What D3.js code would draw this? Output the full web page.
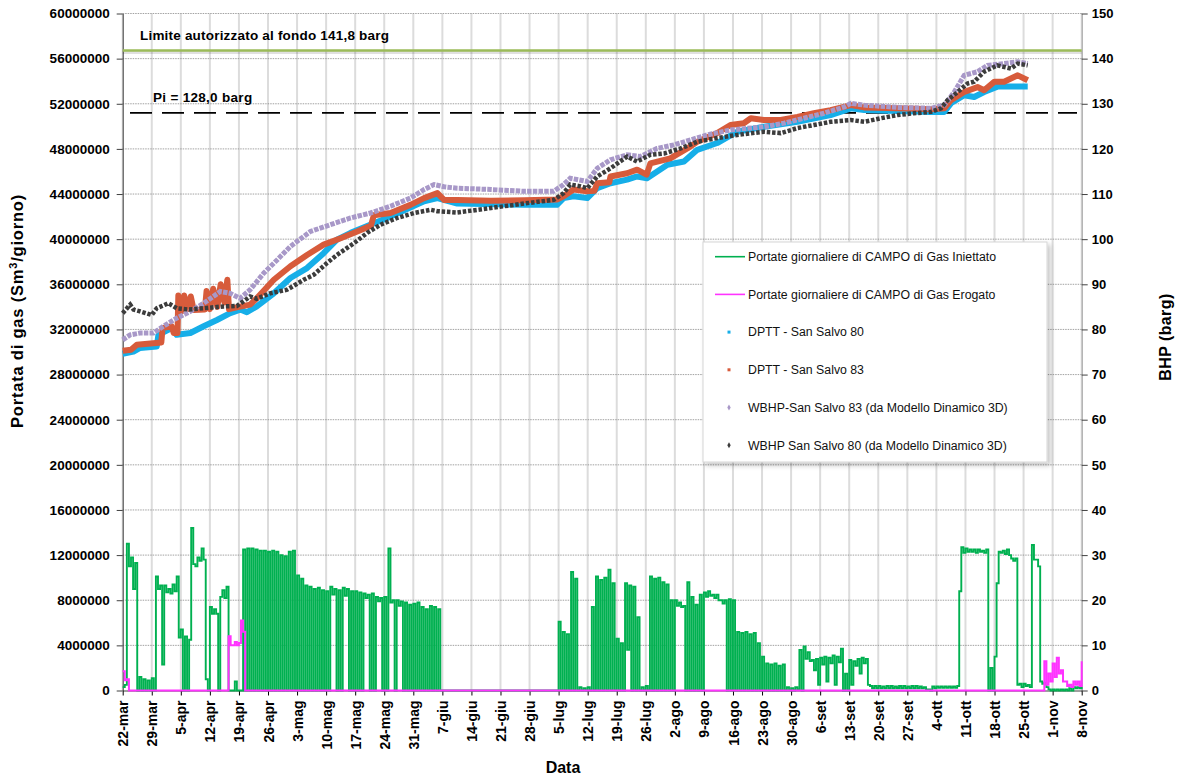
<!DOCTYPE html>
<html><head><meta charset="utf-8">
<script src="https://cdn.jsdelivr.net/npm/d3@7"></script>
<style>
body{margin:0;background:#fff;}
svg{font-family:"Liberation Sans",Arial,sans-serif;}
</style></head><body>
<svg id="c" width="1192" height="778"></svg>
<script>
// ---------- DATA ----------
const xTickLabels = ["22-mar","29-mar","5-apr","12-apr","19-apr","26-apr","3-mag","10-mag","17-mag","24-mag","31-mag","7-giu","14-giu","21-giu","28-giu","5-lug","12-lug","19-lug","26-lug","2-ago","9-ago","16-ago","23-ago","30-ago","6-set","13-set","20-set","27-set","4-ott","11-ott","18-ott","25-ott","1-nov","8-nov"];
const leftTicks = [0,4000000,8000000,12000000,16000000,20000000,24000000,28000000,32000000,36000000,40000000,44000000,48000000,52000000,56000000,60000000];
const rightTicks = [0,10,20,30,40,50,60,70,80,90,100,110,120,130,140,150];

// Gas injected (million Sm3/day), first half / second half of each day, day 0 = 22-mar
const gasInjA = [
0.3,13.0,11.8,11.3,1.2,1.0,0.9,
1.1,10.1,9.3,9.3,9.0,9.4,10.1,
5.4,4.8,4.5,11.2,11.8,12.6,1.0,
7.4,7.2,0.0,8.9,9.2,0.0,0.8,
0.0,12.5,12.6,12.6,12.5,12.4,12.4,
12.3,12.4,12.3,12.0,11.9,12.3,12.4,
10.2,9.9,9.3,9.2,9.0,9.1,8.9,
8.8,9.2,9.0,8.9,9.1,9.0,8.8,
8.8,8.7,8.6,8.5,8.6,8.3,8.2,
8.3,12.6,8.0,8.0,7.9,7.8,7.6,
7.7,7.8,7.4,7.2,7.5,7.4,7.2,
0,0,0,0,0,0,0,
0,0,0,0,0,0,0,
0,0,0,0,0,0,0,
0,0,0,0,0,0,0,
6.1,5.2,5.0,10.5,9.9,0.3,0.2,
0.3,7.4,10.1,9.8,10.0,10.7,9.5,
4.6,4.2,9.5,9.3,9.2,6.5,0.3,
0.4,10.1,9.9,10.0,9.6,9.4,8.0,
8.0,7.8,7.5,9.6,8.3,7.6,8.5,
8.7,8.8,8.5,8.5,8.0,8.0,8.1,
8.0,5.2,5.1,5.2,5.0,5.1,4.2,
3.0,2.4,2.3,2.4,2.2,2.3,0.3,
0.2,0.3,3.6,3.9,3.4,2.7,2.8,
2.9,3.0,2.9,3.1,3.0,3.7,1.5,
2.7,2.6,2.8,2.9,2.8,0.4,0.4,
0.4,0.35,0.4,0.4,0.35,0.4,0.4,
0.35,0.4,0.4,0.35,0.3,0.1,0.35,
0.35,0.35,0.35,0.35,0.35,0.4,12.7,
12.6,12.5,12.5,12.5,12.4,12.5,2.0,
3.0,12.3,12.4,12.5,11.7,11.7,0.6,
0.6,0.5,12.9,11.6,0.8,0.7,0.1,
0.1,0.1,0.1,0.1,0.2,0.3,0.3,
0.3];
const gasInjB = [
0.5,11.0,9.0,0,0,0,0,
0,9.0,2.3,8.7,8.6,8.8,4.7,
0,0,14.4,11.0,11.5,11.6,0,
6.8,6.8,8.3,8.2,0,0,0,
0,0,0,0,0,0,0,
0,0,0,0,0,0,0,
0,0,0,0,0,0,0,
0,8.5,0,0,8.4,0,0,
0,0,8.2,0,0,7.9,0,
0,7.8,0,7.5,0,0,0,
0,0,0,0,0,0,0,
0,0,0,0,0,0,0,
0,0,0,0,0,0,0,
0,0,0,0,0,0,0,
0,0,0,0,0,0,0,
0,0,0,0,0,0,0,
0,0,0,0,0,0,0,
0,0,3.6,0,0,0,0,
0,0,0,0,0,0,0,
7.5,7.4,0,0,0,0,0,
8.3,8.4,8.2,8.0,7.7,0,0,
0,0,0,0,0,0,0,
0,0,0,0,0,0,0,
0,0.1,0,2.8,2.6,1.8,0.5,
2.3,0.8,2.4,0.5,2.5,0,0,
0.5,2.2,1.5,2.4,0.5,0.2,0.2,
0.2,0.2,0.2,0.2,0.2,0.2,0.2,
0.2,0.2,0.2,0.2,0.1,0,0.2,
0.25,0.25,0.25,0.25,0.25,8.8,12.2,
12.3,12.3,12.2,12.3,12.2,0,0,
9.5,12.2,12.1,12.0,11.5,0.5,0.3,
0.4,0.3,11.6,11.0,0.6,0.3,0,
0,0,0,0,0,0.2,0.2,
0.3];
// Gas delivered (million Sm3/day), first half / second half
const gasEroA = [
1.7,1.0,0,0,0,0,0,
0,0,0,0,0,0,0,
0,0,0,0,0,0,0,
0,0,0,0,0,4.0,4.3,
4.2,5.2,0,0,0,0,0,
0,0,0,0,0,0,0,
0,0,0,0,0,0,0,
0,0,0,0,0,0,0,
0,0,0,0,0,0,0,
0,0,0,0,0,0,0,
0,0,0,0,0,0,0,
0,0,0,0,0,0,0,
0,0,0,0,0,0,0,
0,0,0,0,0,0,0,
0,0,0,0,0,0,0,
0,0,0,0,0,0,0,
0,0,0,0,0,0,0,
0,0,0,0,0,0,0,
0,0,0,0,0,0,0,
0,0,0,0,0,0,0,
0,0,0,0,0,0,0,
0,0,0,0,0,0,0,
0,0,0,0,0,0,0,
0,0,0,0,0,0,0,
0,0,0,0,0,0,0,
0,0,0,0,0,0,0,
0,0,0,0,0,0,0,
0,0,0,0,0,0,0,
0,0,0,0,0,0,0,
0,0,0,0,0,0,0,
0,0,0,0,0,0,0,
0,0,0,0,0,2.6,1.5,
2.4,2.9,1.8,0.8,0.5,0.8,0.8,
2.6];
const gasEroB = [
0.9,0,0,0,0,0,0,
0,0,0,0,0,0,0,
0,0,0,0,0,0,0,
0,0,0,0,4.8,4.0,4.0,
6.2,0,0,0,0,0,0,
0,0,0,0,0,0,0,
0,0,0,0,0,0,0,
0,0,0,0,0,0,0,
0,0,0,0,0,0,0,
0,0,0,0,0,0,0,
0,0,0,0,0,0,0,
0,0,0,0,0,0,0,
0,0,0,0,0,0,0,
0,0,0,0,0,0,0,
0,0,0,0,0,0,0,
0,0,0,0,0,0,0,
0,0,0,0,0,0,0,
0,0,0,0,0,0,0,
0,0,0,0,0,0,0,
0,0,0,0,0,0,0,
0,0,0,0,0,0,0,
0,0,0,0,0,0,0,
0,0,0,0,0,0,0,
0,0,0,0,0,0,0,
0,0,0,0,0,0,0,
0,0,0,0,0,0,0,
0,0,0,0,0,0,0,
0,0,0,0,0,0,0,
0,0,0,0,0,0,0,
0,0,0,0,0,0,0,
0,0,0,0,0,0,0,
0,0,0,0,0,0.5,0.8,
1.2,1.5,0.8,0.4,0.3,0.5,0.4,
0.5];

// Pressures (barg): [day since 22-mar, value]
const dpttSS80 = [[0,74.6],[2.6,75.1],[4.2,75.9],[8.2,76.2],[8.6,78.8],[11.8,80.3],[13,78.8],[16.3,79.2],[19.5,80.7],[22.7,82.1],[25.9,83.6],[28.3,84.4],[29.9,83.8],[32.3,85.1],[36.4,88.0],[40.4,91.4],[44.4,93.6],[48.4,96.9],[51.6,99.9],[54.9,101.4],[58,102.6],[64.5,105.0],[72.6,108.4],[75.8,109.1],[80.6,107.9],[96.7,107.6],[104.6,107.6],[106.2,109.1],[108.6,109.5],[111.9,109.1],[114.3,111.3],[117.5,112.4],[121.5,113.2],[123.9,113.9],[126.3,113.5],[131.2,116.5],[135.2,117.2],[138.4,119.8],[143.2,121.3],[148,123.8],[154.5,124.9],[162.5,126.0],[170.5,127.5],[175.4,129.0],[178.6,128.6],[186.6,128.4],[194.7,128.2],[197.9,128.2],[199.5,130.1],[202.7,131.9],[205.1,131.5],[207.5,132.6],[210.7,133.8],[215.6,133.8],[218,133.8]];
const dpttSS83 = [[0,75.3],[2,75.5],[3.4,76.6],[9.3,77.1],[9.6,80.3],[11.8,80.7],[12.3,79.2],[13.2,79.2],[13.4,87.5],[14.2,84.0],[14.8,87.5],[15.6,84.5],[16.4,87.3],[17.1,84.3],[19.8,84.4],[20.2,88.5],[21,84.5],[21.8,89.0],[22.8,85.0],[23.6,90.0],[24.5,86.0],[25.2,91.0],[25.6,84.5],[28,85.0],[30.7,85.5],[32.3,86.9],[36.4,91.0],[40.4,94.0],[44.4,96.5],[48.4,98.8],[52.5,100.2],[56.5,101.7],[59.8,103.0],[60.5,105.3],[64.5,105.8],[69.3,107.6],[72.6,109.1],[75.8,110.2],[77.4,108.7],[80.6,108.7],[88.7,108.5],[96.7,108.6],[104.6,108.8],[106.2,109.5],[108.6,111.0],[111.9,110.6],[113.6,110.7],[114.3,112.4],[117.2,112.6],[117.5,113.9],[121.5,114.6],[123.9,115.4],[126.2,114.3],[127.1,116.8],[131.9,117.9],[136,120.1],[138.4,121.6],[143.2,123.5],[146.4,125.3],[149.6,125.7],[151.3,126.8],[154.5,126.4],[158.5,126.4],[162.5,127.1],[166.5,127.9],[170.5,128.6],[175.4,129.7],[178.6,129.2],[186.6,129.0],[194.7,128.8],[197.9,129.0],[199.5,130.8],[202.7,132.6],[205.9,133.7],[207.5,133.0],[210,134.9],[212.3,134.9],[215.6,136.3],[218,135.2]];
const wbhpSS83 = [[0,77.7],[1.8,78.8],[4.2,79.2],[7.4,79.2],[9.8,80.7],[13,82.5],[16.3,84.0],[19.5,85.8],[23.5,88.4],[25.9,88.0],[28.3,86.9],[30.7,88.8],[34,92.5],[37.2,95.4],[40.4,98.4],[45.2,101.7],[50,103.2],[54.9,104.7],[59.7,105.8],[64.5,107.3],[69.3,109.1],[72.6,111.0],[75,112.1],[77.4,111.6],[80.6,111.3],[88.7,111.0],[96.7,110.6],[103.8,110.6],[106.2,112.1],[107.8,113.5],[111.9,112.8],[114.3,115.7],[117.5,117.6],[121.5,118.7],[124.7,118.3],[128.7,120.1],[132.8,120.9],[136.8,122.0],[140.8,123.1],[146.4,124.2],[154.5,124.9],[159.3,125.7],[164.1,126.8],[168.9,127.9],[173.8,129.3],[175.4,130.1],[178.6,129.7],[186.6,129.2],[194.7,129.0],[197.9,129.7],[200.3,132.6],[202.7,136.3],[205.9,137.1],[208.3,138.5],[212.3,138.9],[215.6,139.3],[218,138.9]];
const wbhpSS80 = [[0,83.6],[1.8,85.5],[2.6,84.4],[4.2,84.0],[7,83.2],[8.2,84.7],[11,85.8],[13,84.7],[16,84.4],[19.5,84.7],[24.3,85.1],[27.5,85.2],[29.5,86.5],[30.7,87.3],[32.3,86.8],[35.5,88.0],[39.6,88.8],[43.6,91.0],[46,92.1],[49.2,94.7],[51.6,96.5],[55.7,99.1],[58.9,101.4],[62.1,103.2],[66.1,104.7],[70.2,105.8],[74.2,106.5],[75.8,106.2],[80.6,105.9],[88.7,106.9],[96.7,107.9],[103.8,108.7],[106.2,110.2],[107.8,112.1],[110.3,111.7],[111.9,111.3],[114.3,113.9],[117.5,115.7],[121.5,118.3],[123.9,117.2],[127.1,118.7],[130.4,119.0],[134.4,120.1],[138.4,121.6],[143.2,122.4],[148,123.1],[154.5,123.8],[158.5,123.5],[162.5,124.6],[166.5,125.3],[170.5,126.0],[175.4,126.4],[178.6,126.0],[182.6,126.8],[186.6,127.5],[190.6,127.9],[194.7,128.2],[197.1,129.0],[198.7,130.8],[201.1,132.6],[203.5,134.5],[205.1,134.9],[207.5,137.1],[210.7,138.5],[214,137.8],[215.6,138.9],[218,138.5]];

const limitBarg = 141.8;
const piBarg = 128.0;
const legendItems = [
  {label:"Portate giornaliere di CAMPO di Gas Iniettato", type:"line", color:"#00B050"},
  {label:"Portate giornaliere di CAMPO di Gas Erogato", type:"line", color:"#FF33FF"},
  {label:"DPTT - San Salvo 80", type:"square", color:"#16AEE8"},
  {label:"DPTT - San Salvo 83", type:"square", color:"#D75B3B"},
  {label:"WBHP-San Salvo 83 (da Modello Dinamico 3D)", type:"diamond", color:"#A898C8"},
  {label:"WBHP San Salvo 80 (da Modello Dinamico 3D)", type:"diamond", color:"#3C3C3C"}
];

// ---------- CHART ----------
const svg = d3.select("#c");
const L = 122.7, R = 1081.7, T = 13.5, B = 690.5;
const start = Date.UTC(2010,2,22), dayMs = 864e5;
const toDate = d => new Date(start + d*dayMs);
const x = d3.scaleUtc().domain([toDate(0), toDate(231)]).range([L, R]);
const yL = d3.scaleLinear().domain([0,60000000]).range([B, T]);
const yR = d3.scaleLinear().domain([0,150]).range([B, T]);
const tickDates = xTickLabels.map((_,i)=>toDate(i*7));

const defs = svg.append("defs");
const f = defs.append("filter").attr("id","sh").attr("x","-5%").attr("y","-5%").attr("width","115%").attr("height","115%");
f.append("feDropShadow").attr("dx",3).attr("dy",3).attr("stdDeviation",2.5).attr("flood-color","#000").attr("flood-opacity",0.22);

// gridlines
svg.append("g").selectAll("line").data(tickDates).join("line")
  .attr("x1",d=>x(d)).attr("x2",d=>x(d)).attr("y1",T).attr("y2",B)
  .attr("stroke","#dcdcdc").attr("stroke-width",2);
svg.append("g").selectAll("line").data(leftTicks.slice(1)).join("line")
  .attr("x1",L).attr("x2",R).attr("y1",d=>yL(d)).attr("y2",d=>yL(d))
  .attr("stroke","#8a8a8a").attr("stroke-width",0.8).attr("stroke-dasharray","1.5,1");

// axes
const fontAxis = (g,fs) => g.selectAll("text").attr("font-size",fs).attr("font-weight","bold").attr("fill","#000").attr("font-family","'Liberation Sans',Arial,sans-serif");
const ax = svg.append("g").attr("transform",`translate(0,${B})`)
  .call(d3.axisBottom(x).tickValues(tickDates).tickFormat((d,i)=>xTickLabels[i]).tickSize(5).tickSizeOuter(0));
ax.select(".domain").attr("stroke","#404040");
ax.selectAll(".tick line").attr("stroke","#000");
fontAxis(ax,14);
ax.selectAll("text").attr("transform","rotate(-90)").attr("text-anchor","end").attr("x",-10).attr("y",0).attr("dy","0.36em");

const al = svg.append("g").attr("transform",`translate(${L},0)`)
  .call(d3.axisLeft(yL).tickValues(leftTicks).tickFormat(d3.format("d")).tickSize(6).tickPadding(7).tickSizeOuter(0));
al.select(".domain").attr("stroke","#404040");
al.selectAll(".tick line").attr("stroke","#404040");
fontAxis(al,13.5);

const ar = svg.append("g").attr("transform",`translate(${R},0)`)
  .call(d3.axisRight(yR).tickValues(rightTicks).tickSize(6).tickPadding(4).tickSizeOuter(0));
ar.select(".domain").attr("stroke","#a0a0a0");
ar.selectAll(".tick line").attr("stroke","#404040");
fontAxis(ar,13);

// limit line
svg.append("line").attr("x1",L).attr("x2",R).attr("y1",yR(limitBarg)+2).attr("y2",yR(limitBarg)+2)
  .attr("stroke","#000").attr("stroke-opacity",0.12).attr("stroke-width",3);
svg.append("line").attr("x1",L).attr("x2",R).attr("y1",yR(limitBarg)).attr("y2",yR(limitBarg))
  .attr("stroke","#9BBB59").attr("stroke-width",2.5);
svg.append("text").attr("x",140).attr("y",40).attr("font-size",13.5).attr("letter-spacing",0.2).attr("font-weight","bold")
  .text("Limite autorizzato al fondo 141,8 barg");

// Pi line
svg.append("line").attr("x1",130).attr("x2",1077).attr("y1",yR(piBarg)).attr("y2",yR(piBarg))
  .attr("stroke","#000").attr("stroke-width",1.8).attr("stroke-dasharray","22,10");
svg.append("text").attr("x",153).attr("y",102).attr("font-size",13.5).attr("letter-spacing",0.3).attr("font-weight","bold")
  .text("Pi = 128,0 barg");

// gas flows (half-day step lines)
function halfDay(A,Bv){
  const pts=[];
  A.forEach((v,i)=>{ pts.push([toDate(i),v*1e6]); if(i<A.length-1) pts.push([toDate(i+0.5),Bv[i]*1e6]); });
  return pts;
}
const stepLine = d3.line().x(d=>x(d[0])).y(d=>yL(d[1])).curve(d3.curveStepAfter);
svg.append("path").attr("d",stepLine(halfDay(gasInjA,gasInjB)))
  .attr("fill","none").attr("stroke","#00B050").attr("stroke-width",1.9);
svg.append("path").attr("d",stepLine(halfDay(gasEroA,gasEroB)))
  .attr("fill","none").attr("stroke","#FF33FF").attr("stroke-width",2);

// pressures
const pLine = d3.line().x(d=>x(toDate(d[0]))).y(d=>yR(d[1]));
svg.append("path").attr("d",pLine(dpttSS80)).attr("fill","none").attr("stroke","#16AEE8").attr("stroke-width",6).attr("stroke-linejoin","round");
svg.append("path").attr("d",pLine(dpttSS83)).attr("fill","none").attr("stroke","#D75B3B").attr("stroke-width",6).attr("stroke-linejoin","round");
svg.append("path").attr("d",pLine(wbhpSS83)).attr("fill","none").attr("stroke","#A898C8").attr("stroke-width",5).attr("stroke-dasharray","4.5,1.2");
svg.append("path").attr("d",pLine(wbhpSS80)).attr("fill","none").attr("stroke","#3C3C3C").attr("stroke-width",4.5).attr("stroke-dasharray","3.5,1.8");

// titles
const tl = svg.append("text").attr("transform","translate(23,311) rotate(-90)").attr("text-anchor","middle")
  .attr("font-size",16.5).attr("letter-spacing",0.8).attr("font-weight","bold");
tl.append("tspan").text("Portata di gas (Sm");
tl.append("tspan").attr("dy",-6).attr("font-size",11).text("3");
tl.append("tspan").attr("dy",6).text("/giorno)");
svg.append("text").attr("transform","translate(1171,337) rotate(-90)").attr("text-anchor","middle")
  .attr("font-size",16).attr("letter-spacing",0.4).attr("font-weight","bold").text("BHP (barg)");
svg.append("text").attr("x",563).attr("y",773).attr("text-anchor","middle")
  .attr("font-size",16).attr("font-weight","bold").text("Data");

// legend
const lg = svg.append("g");
lg.append("rect").attr("x",703).attr("y",242).attr("width",344).attr("height",220)
  .attr("fill","#fff").attr("stroke","#d6d6d6").attr("filter","url(#sh)");
legendItems.forEach((it,i)=>{
  const cy = 256.7 + i*37.7;
  if(it.type==="line"){
    lg.append("line").attr("x1",715).attr("x2",745).attr("y1",cy).attr("y2",cy).attr("stroke",it.color).attr("stroke-width",1.6);
  } else if(it.type==="square"){
    lg.append("rect").attr("x",727.5).attr("y",cy-1.5).attr("width",3).attr("height",3).attr("fill",it.color);
  } else {
    lg.append("path").attr("d",d3.symbol(d3.symbolDiamond,10)()).attr("transform",`translate(729,${cy})`).attr("fill",it.color);
  }
  lg.append("text").attr("x",748).attr("y",cy).attr("dy","0.35em").attr("font-size",12.3).attr("fill","#111").text(it.label);
});
</script>
</body></html>
